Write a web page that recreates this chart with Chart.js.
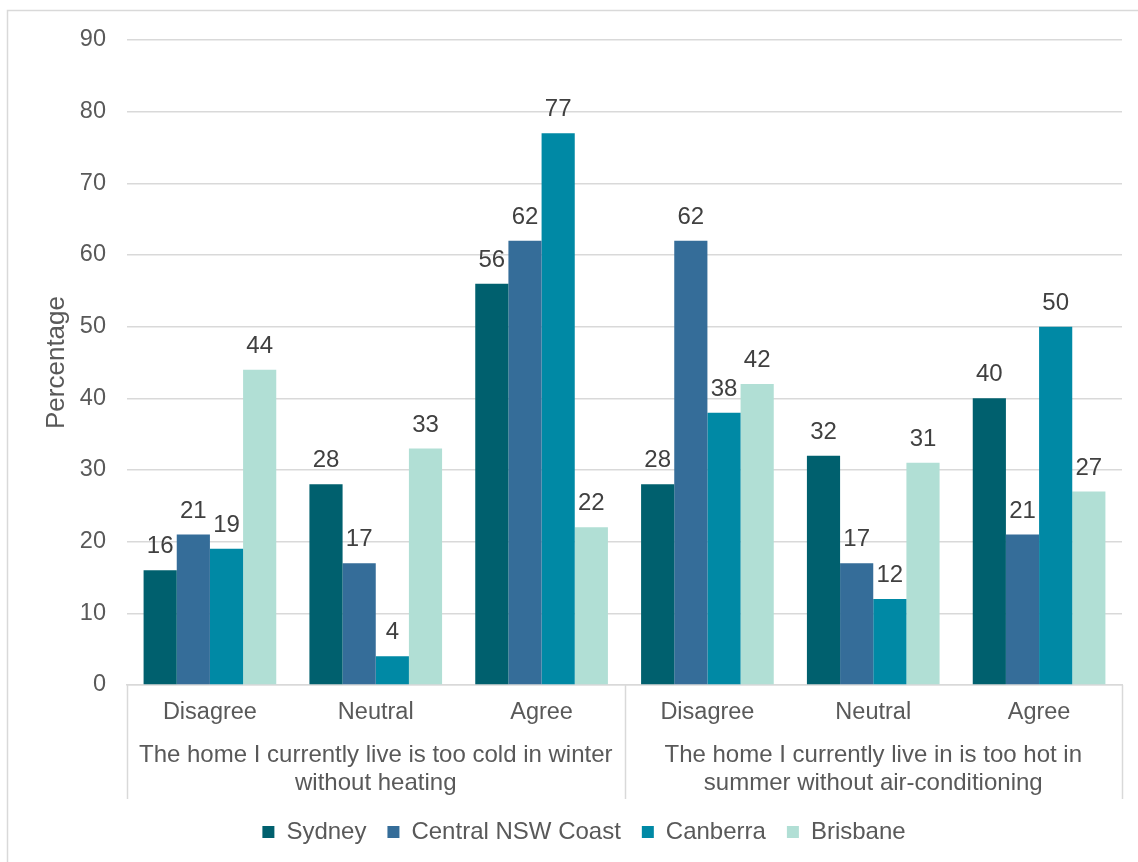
<!DOCTYPE html>
<html>
<head>
<meta charset="utf-8">
<script src="https://cdn.jsdelivr.net/npm/chart.js@4/dist/chart.umd.min.js"></script>
<style>
  html, body { margin: 0; padding: 0; background: #ffffff; overflow: hidden; }
  #wrap { width: 1138px; height: 862px; position: relative; }
</style>
</head>
<body>
<div id="wrap"><canvas id="chart" width="1138" height="862"></canvas></div>
<script>
// Response categories along the x axis (two statements, three responses each)
const responses = ['Disagree', 'Neutral', 'Agree', 'Disagree', 'Neutral', 'Agree'];
const statements = [
  ['The home I currently live is too cold in winter', 'without heating'],
  ['The home I currently live in is too hot in', 'summer without air-conditioning']
];

// Percentage of respondents per region
const sydney     = [16, 28, 56, 28, 32, 40];
const centralNSW = [21, 17, 62, 62, 17, 21];
const canberra   = [19, 4, 77, 38, 12, 50];
const brisbane   = [44, 33, 22, 42, 31, 27];

const yTicks = [0, 10, 20, 30, 40, 50, 60, 70, 80, 90];

const FONT = '"Liberation Sans", Arial, sans-serif';
const FS = 23.5;
const FS_BIG = 24;
const GREY_TEXT = '#595959';
const LINE = '#D9D9D9';

// Outer frame of the chart
const framePlugin = {
  id: 'frame',
  beforeDraw(chart) {
    const ctx = chart.ctx;
    ctx.save();
    ctx.fillStyle = '#ffffff';
    ctx.fillRect(0, 0, chart.width, chart.height);
    ctx.strokeStyle = LINE;
    ctx.lineWidth = 1.5;
    ctx.strokeRect(7.5, 10.5, chart.width + 20, chart.height + 20);
    ctx.restore();
  }
};

// Value labels above every bar
const valueLabels = {
  id: 'valueLabels',
  afterDatasetsDraw(chart) {
    const ctx = chart.ctx;
    ctx.save();
    ctx.font = FS_BIG + 'px ' + FONT;
    ctx.fillStyle = '#404040';
    ctx.textAlign = 'center';
    ctx.textBaseline = 'alphabetic';
    chart.data.datasets.forEach((ds, i) => {
      const meta = chart.getDatasetMeta(i);
      meta.data.forEach((bar, j) => {
        ctx.fillText(String(ds.data[j]), bar.x, bar.y - 17);
      });
    });
    ctx.restore();
  }
};

// Second level of the category axis: statement labels and separators
const groupAxis = {
  id: 'groupAxis',
  afterDraw(chart) {
    const ctx = chart.ctx;
    const x = chart.scales.x;
    const top = x.top;
    const bottom = x.bottom;
    const left = chart.chartArea.left;
    const right = chart.chartArea.right;
    const mid = (left + right) / 2;
    ctx.save();
    ctx.strokeStyle = LINE;
    ctx.lineWidth = 1.5;
    [left, mid, right].forEach(px => {
      ctx.beginPath();
      ctx.moveTo(Math.round(px) + 0.5, top);
      ctx.lineTo(Math.round(px) + 0.5, bottom);
      ctx.stroke();
    });
    ctx.font = FS_BIG + 'px ' + FONT;
    ctx.fillStyle = GREY_TEXT;
    ctx.textAlign = 'center';
    ctx.textBaseline = 'middle';
    const centers = [(left + mid) / 2, (mid + right) / 2];
    statements.forEach((lines, g) => {
      lines.forEach((t, k) => {
        ctx.fillText(t, centers[g], top + 70 + k * 28);
      });
    });
    ctx.restore();
  }
};

const makeSet = (label, data, color) => ({
  label, data, backgroundColor: color, borderWidth: 0,
  categoryPercentage: 0.8, barPercentage: 1.0
});

new Chart(document.getElementById('chart'), {
  type: 'bar',
  data: {
    labels: responses,
    datasets: [
      makeSet('Sydney', sydney, '#00606E'),
      makeSet('Central NSW Coast', centralNSW, '#356D99'),
      makeSet('Canberra', canberra, '#0089A5'),
      makeSet('Brisbane', brisbane, '#B1DFD5')
    ]
  },
  options: {
    responsive: false,
    animation: false,
    devicePixelRatio: 1,
    layout: { padding: { left: 46, right: 16, top: 40, bottom: 8 } },
    plugins: {
      tooltip: { enabled: false },
      legend: {
        position: 'bottom',
        labels: {
          boxWidth: 12, boxHeight: 12, padding: 21,
          color: GREY_TEXT,
          font: { family: FONT, size: FS_BIG }
        }
      }
    },
    scales: {
      x: {
        grid: { display: false, drawTicks: false },
        border: { display: true, color: LINE, width: 1.5 },
        ticks: {
          color: GREY_TEXT, padding: 13, maxRotation: 0, autoSkip: false,
          font: { family: FONT, size: FS }
        },
        afterFit(scale) { scale.height = 114; }
      },
      y: {
        min: 0, max: 90,
        afterBuildTicks(scale) { scale.ticks = yTicks.map(v => ({ value: v })); },
        grid: { color: LINE, lineWidth: 1.5, drawTicks: false, tickLength: 0 },
        border: { display: false },
        ticks: {
          color: GREY_TEXT, padding: 21,
          font: { family: FONT, size: FS }
        },
        title: {
          display: true, text: 'Percentage', color: GREY_TEXT,
          padding: { top: 0, bottom: 0 },
          font: { family: FONT, size: 26, lineHeight: 0.85 }
        },
        afterFit(scale) { scale.width = 81; }
      }
    }
  },
  plugins: [framePlugin, valueLabels, groupAxis]
});
</script>
</body>
</html>
